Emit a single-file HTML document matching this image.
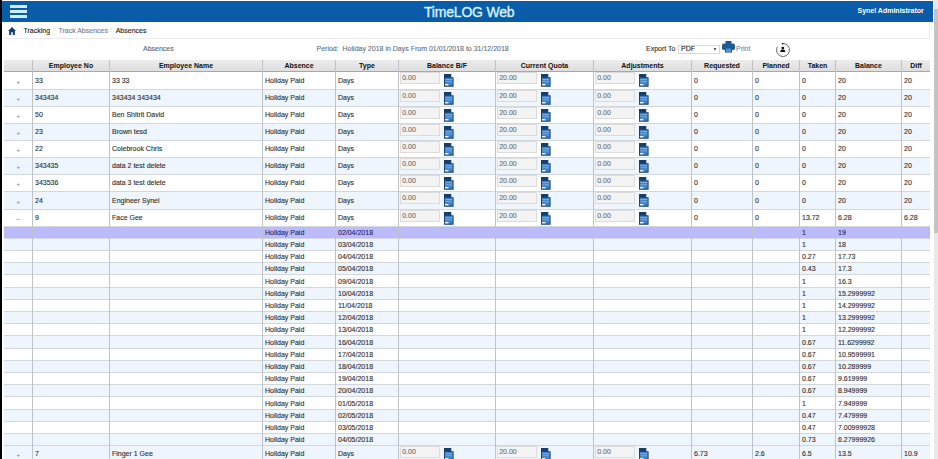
<!DOCTYPE html><html><head><meta charset="utf-8"><style>
*{margin:0;padding:0;box-sizing:border-box}
html,body{width:938px;height:459px;overflow:hidden;background:#fff;font-family:"Liberation Sans", sans-serif}
.a{position:absolute}
.t{position:absolute;font-size:7px;line-height:8px;color:#303030;white-space:nowrap;-webkit-text-stroke:0.12px currentColor}
.hd{position:absolute;font-size:7px;line-height:8px;font-weight:bold;color:#111;white-space:nowrap;text-align:center}
.ic{position:absolute}
.inp{position:absolute;height:12px;border:1px solid #dcdcdc;background:#f3f3f3;font-size:7px;line-height:10px;color:#6e6e6e;padding-left:1.2px;-webkit-text-stroke:0.1px currentColor}
</style></head><body>
<div class="a" style="left:0;top:0;width:2px;height:459px;background:#000"></div>
<div class="a" style="left:2px;top:1.3px;width:930.5px;height:20.4px;background:#0a5ca8"></div>
<div class="a" style="left:10px;top:5.2px;width:17px;height:2.7px;background:#cdeffd"></div>
<div class="a" style="left:10px;top:10.1px;width:17px;height:2.7px;background:#cdeffd"></div>
<div class="a" style="left:10px;top:15.3px;width:17px;height:2.7px;background:#cdeffd"></div>
<div class="a" style="left:424px;top:4.3px;font-size:14px;line-height:16px;letter-spacing:-0.2px;color:#d6f2fe;white-space:nowrap;-webkit-text-stroke:0.35px #d6f2fe">TimeLOG Web</div>
<div class="a" style="left:857.5px;top:6.6px;font-size:7px;line-height:8px;font-weight:bold;color:#fff;white-space:nowrap">Synel Administrator</div>
<div class="a" style="left:934px;top:0;width:4px;height:459px;background:#e8e8e8"></div>
<div class="a" style="left:934px;top:9px;width:4px;height:224px;background:#c4c4c4"></div>
<div class="a" style="left:4px;top:21.5px;width:926px;height:17.5px;border-bottom:1px solid #ececec;border-right:1px solid #f0f0f0;background:#fff"></div>
<svg class="a" style="left:7.8px;top:26.8px" width="8" height="8" viewBox="0 0 9 8" preserveAspectRatio="none"><path d="M4.5 0L9 4H7.7V8H5.4V5.3H3.6V8H1.3V4H0Z" fill="#173f6e"/></svg>
<div class="t" style="left:23.5px;top:27px;color:#222">Tracking</div>
<div class="t" style="left:53px;top:27px;color:#e8e8e8">/</div>
<div class="t" style="left:58.4px;top:27px;color:#6f849b">Track Absences</div>
<div class="t" style="left:110px;top:27px;color:#e8e8e8">/</div>
<div class="t" style="left:115.7px;top:27px;color:#222">Absences</div>
<div class="t" style="left:143px;top:45.3px;color:#56687e">Absences</div>
<div class="t" style="left:316.5px;top:45.3px;color:#67737f">Period:&nbsp; Holiday 2018 in Days From 01/01/2018 to 31/12/2018</div>
<div class="t" style="left:646px;top:45px;color:#333">Export To</div>
<div class="a" style="left:678px;top:44.5px;width:42px;height:9px;border:1px solid #d8d8d8;background:#fff"></div>
<div class="t" style="left:681px;top:45px;color:#222">PDF</div>
<div class="a" style="left:713.5px;top:47.5px;width:0;height:0;border-left:1.5px solid transparent;border-right:1.5px solid transparent;border-top:3px solid #222"></div>
<svg class="a" style="left:721.5px;top:41px" width="13" height="12" viewBox="0 0 13 12"><rect x="3.5" y="0" width="6" height="3" fill="#1c5b93"/><rect x="0" y="2.6" width="13" height="6.4" rx="1.8" fill="#1c5b93"/><rect x="3" y="6.8" width="7" height="4.8" fill="#1c5b93"/><rect x="4" y="7.5" width="5" height="3.5" fill="#4f93d0"/></svg>
<div class="t" style="left:736px;top:45px;color:#7d8a99">Print</div>
<svg class="a" style="left:774.5px;top:42px" width="16" height="16" viewBox="0 0 16 16"><path d="M8 1.5A6.5 6.5 0 1 1 2.37 4.75" fill="none" stroke="#444" stroke-width="0.8"/><circle cx="7.6" cy="1.7" r="0.9" fill="#333"/><circle cx="7.8" cy="6.1" r="1.45" fill="#111"/><path d="M5.2 10C5.4 8.3 6.3 7.6 7.8 7.6C9.3 7.6 10.2 8.3 10.4 10Z" fill="#111"/></svg>
<div class="a" style="left:4px;top:59.5px;width:926px;height:12.0px;background:linear-gradient(#ececec,#dedede);border-bottom:1px solid #a8a8a8"></div>
<div class="hd" style="left:32.5px;top:62px;width:77px">Employee No</div>
<div class="hd" style="left:109.5px;top:62px;width:153px">Employee Name</div>
<div class="hd" style="left:262.5px;top:62px;width:73px">Absence</div>
<div class="hd" style="left:335.5px;top:62px;width:63px">Type</div>
<div class="hd" style="left:398.5px;top:62px;width:97px">Balance B/F</div>
<div class="hd" style="left:495.5px;top:62px;width:98px">Current Quota</div>
<div class="hd" style="left:593.5px;top:62px;width:98px">Adjustments</div>
<div class="hd" style="left:691.5px;top:62px;width:61px">Requested</div>
<div class="hd" style="left:752.5px;top:62px;width:47px">Planned</div>
<div class="hd" style="left:799.5px;top:62px;width:36px">Taken</div>
<div class="hd" style="left:835.5px;top:62px;width:66px">Balance</div>
<div class="hd" style="left:901.5px;top:62px;width:29px">Diff</div>
<div class="a" style="left:4px;top:72px;width:926px;height:18px;background:#ffffff"></div>
<div class="a" style="left:4px;top:89px;width:926px;height:1px;background:#d3d7db"></div>
<div class="a" style="left:4px;top:90px;width:926px;height:17px;background:#eef5fc"></div>
<div class="a" style="left:4px;top:106px;width:926px;height:1px;background:#d3d7db"></div>
<div class="a" style="left:4px;top:107px;width:926px;height:17px;background:#ffffff"></div>
<div class="a" style="left:4px;top:123px;width:926px;height:1px;background:#d3d7db"></div>
<div class="a" style="left:4px;top:124px;width:926px;height:17px;background:#eef5fc"></div>
<div class="a" style="left:4px;top:140px;width:926px;height:1px;background:#d3d7db"></div>
<div class="a" style="left:4px;top:141px;width:926px;height:17px;background:#ffffff"></div>
<div class="a" style="left:4px;top:157px;width:926px;height:1px;background:#d3d7db"></div>
<div class="a" style="left:4px;top:158px;width:926px;height:17px;background:#eef5fc"></div>
<div class="a" style="left:4px;top:174px;width:926px;height:1px;background:#d3d7db"></div>
<div class="a" style="left:4px;top:175px;width:926px;height:17px;background:#ffffff"></div>
<div class="a" style="left:4px;top:191px;width:926px;height:1px;background:#d3d7db"></div>
<div class="a" style="left:4px;top:192px;width:926px;height:18px;background:#eef5fc"></div>
<div class="a" style="left:4px;top:209px;width:926px;height:1px;background:#d3d7db"></div>
<div class="a" style="left:4px;top:210px;width:926px;height:17px;background:#ffffff"></div>
<div class="a" style="left:4px;top:226px;width:926px;height:1px;background:#d3d7db"></div>
<div class="a" style="left:4px;top:227px;width:926px;height:12px;background:#bbbbfb"></div>
<div class="a" style="left:4px;top:238px;width:926px;height:1px;background:#d3d7db"></div>
<div class="a" style="left:4px;top:239px;width:926px;height:12px;background:#eef5fc"></div>
<div class="a" style="left:4px;top:250px;width:926px;height:1px;background:#d3d7db"></div>
<div class="a" style="left:4px;top:251px;width:926px;height:12px;background:#ffffff"></div>
<div class="a" style="left:4px;top:262px;width:926px;height:1px;background:#d3d7db"></div>
<div class="a" style="left:4px;top:263px;width:926px;height:12px;background:#eef5fc"></div>
<div class="a" style="left:4px;top:274px;width:926px;height:1px;background:#d3d7db"></div>
<div class="a" style="left:4px;top:275px;width:926px;height:13px;background:#ffffff"></div>
<div class="a" style="left:4px;top:287px;width:926px;height:1px;background:#d3d7db"></div>
<div class="a" style="left:4px;top:288px;width:926px;height:12px;background:#eef5fc"></div>
<div class="a" style="left:4px;top:299px;width:926px;height:1px;background:#d3d7db"></div>
<div class="a" style="left:4px;top:300px;width:926px;height:12px;background:#ffffff"></div>
<div class="a" style="left:4px;top:311px;width:926px;height:1px;background:#d3d7db"></div>
<div class="a" style="left:4px;top:312px;width:926px;height:12px;background:#eef5fc"></div>
<div class="a" style="left:4px;top:323px;width:926px;height:1px;background:#d3d7db"></div>
<div class="a" style="left:4px;top:324px;width:926px;height:12px;background:#ffffff"></div>
<div class="a" style="left:4px;top:335px;width:926px;height:1px;background:#d3d7db"></div>
<div class="a" style="left:4px;top:336px;width:926px;height:13px;background:#eef5fc"></div>
<div class="a" style="left:4px;top:348px;width:926px;height:1px;background:#d3d7db"></div>
<div class="a" style="left:4px;top:349px;width:926px;height:12px;background:#ffffff"></div>
<div class="a" style="left:4px;top:360px;width:926px;height:1px;background:#d3d7db"></div>
<div class="a" style="left:4px;top:361px;width:926px;height:12px;background:#eef5fc"></div>
<div class="a" style="left:4px;top:372px;width:926px;height:1px;background:#d3d7db"></div>
<div class="a" style="left:4px;top:373px;width:926px;height:12px;background:#ffffff"></div>
<div class="a" style="left:4px;top:384px;width:926px;height:1px;background:#d3d7db"></div>
<div class="a" style="left:4px;top:385px;width:926px;height:12px;background:#eef5fc"></div>
<div class="a" style="left:4px;top:396px;width:926px;height:1px;background:#d3d7db"></div>
<div class="a" style="left:4px;top:397px;width:926px;height:13px;background:#ffffff"></div>
<div class="a" style="left:4px;top:409px;width:926px;height:1px;background:#d3d7db"></div>
<div class="a" style="left:4px;top:410px;width:926px;height:12px;background:#eef5fc"></div>
<div class="a" style="left:4px;top:421px;width:926px;height:1px;background:#d3d7db"></div>
<div class="a" style="left:4px;top:422px;width:926px;height:12px;background:#ffffff"></div>
<div class="a" style="left:4px;top:433px;width:926px;height:1px;background:#d3d7db"></div>
<div class="a" style="left:4px;top:434px;width:926px;height:12px;background:#eef5fc"></div>
<div class="a" style="left:4px;top:445px;width:926px;height:1px;background:#d3d7db"></div>
<div class="a" style="left:4px;top:446px;width:926px;height:14px;background:#eef5fc"></div>
<div class="a" style="left:32px;top:59.5px;width:1px;height:399.5px;background:#bfc2c6"></div>
<div class="a" style="left:109px;top:59.5px;width:1px;height:399.5px;background:#bfc2c6"></div>
<div class="a" style="left:262px;top:59.5px;width:1px;height:399.5px;background:#bfc2c6"></div>
<div class="a" style="left:335px;top:59.5px;width:1px;height:399.5px;background:#bfc2c6"></div>
<div class="a" style="left:398px;top:59.5px;width:1px;height:399.5px;background:#bfc2c6"></div>
<div class="a" style="left:495px;top:59.5px;width:1px;height:399.5px;background:#bfc2c6"></div>
<div class="a" style="left:593px;top:59.5px;width:1px;height:399.5px;background:#bfc2c6"></div>
<div class="a" style="left:691px;top:59.5px;width:1px;height:399.5px;background:#bfc2c6"></div>
<div class="a" style="left:752px;top:59.5px;width:1px;height:399.5px;background:#bfc2c6"></div>
<div class="a" style="left:799px;top:59.5px;width:1px;height:399.5px;background:#bfc2c6"></div>
<div class="a" style="left:835px;top:59.5px;width:1px;height:399.5px;background:#bfc2c6"></div>
<div class="a" style="left:901px;top:59.5px;width:1px;height:399.5px;background:#bfc2c6"></div>
<div class="t" style="left:16.5px;top:77.67px;color:#888;font-size:6px">+</div>
<div class="t" style="left:35.0px;top:76.67px;">33</div>
<div class="t" style="left:112.0px;top:76.67px;">33 33</div>
<div class="t" style="left:265.0px;top:76.67px;">Holiday Paid</div>
<div class="t" style="left:338.0px;top:76.67px;">Days</div>
<div class="inp" style="left:400px;top:71.9px;width:40px">0.00</div>
<svg class="ic" style="left:444px;top:73.6px" width="10" height="13" viewBox="0 0 10 13"><path d="M0 0H7.3V3.3H9.6V12.7H0Z" fill="#143f6b"/><rect x="0.9" y="3.8" width="7.8" height="8" fill="#3a7bbf"/><rect x="1.3" y="5.0" width="7" height="0.8" fill="#86b8ea"/><rect x="1.3" y="6.8" width="7" height="0.8" fill="#86b8ea"/><rect x="1.3" y="8.6" width="7" height="0.7" fill="#6fa6de"/><rect x="0.9" y="10" width="3.6" height="1.4" fill="#e4f2ff"/></svg>
<div class="inp" style="left:497px;top:71.9px;width:40px">20.00</div>
<svg class="ic" style="left:541px;top:73.6px" width="10" height="13" viewBox="0 0 10 13"><path d="M0 0H7.3V3.3H9.6V12.7H0Z" fill="#143f6b"/><rect x="0.9" y="3.8" width="7.8" height="8" fill="#3a7bbf"/><rect x="1.3" y="5.0" width="7" height="0.8" fill="#86b8ea"/><rect x="1.3" y="6.8" width="7" height="0.8" fill="#86b8ea"/><rect x="1.3" y="8.6" width="7" height="0.7" fill="#6fa6de"/><rect x="0.9" y="10" width="3.6" height="1.4" fill="#e4f2ff"/></svg>
<div class="inp" style="left:595px;top:71.9px;width:40px">0.00</div>
<svg class="ic" style="left:639px;top:73.6px" width="10" height="13" viewBox="0 0 10 13"><path d="M0 0H7.3V3.3H9.6V12.7H0Z" fill="#143f6b"/><rect x="0.9" y="3.8" width="7.8" height="8" fill="#3a7bbf"/><rect x="1.3" y="5.0" width="7" height="0.8" fill="#86b8ea"/><rect x="1.3" y="6.8" width="7" height="0.8" fill="#86b8ea"/><rect x="1.3" y="8.6" width="7" height="0.7" fill="#6fa6de"/><rect x="0.9" y="10" width="3.6" height="1.4" fill="#e4f2ff"/></svg>
<div class="t" style="left:694.0px;top:76.67px;">0</div>
<div class="t" style="left:755.0px;top:76.67px;">0</div>
<div class="t" style="left:802.0px;top:76.67px;">0</div>
<div class="t" style="left:838.0px;top:76.67px;">20</div>
<div class="t" style="left:904.0px;top:76.67px;">20</div>
<div class="t" style="left:16.5px;top:94.67px;color:#888;font-size:6px">+</div>
<div class="t" style="left:35.0px;top:93.67px;">343434</div>
<div class="t" style="left:112.0px;top:93.67px;">343434 343434</div>
<div class="t" style="left:265.0px;top:93.67px;">Holiday Paid</div>
<div class="t" style="left:338.0px;top:93.67px;">Days</div>
<div class="inp" style="left:400px;top:89.9px;width:40px">0.00</div>
<svg class="ic" style="left:444px;top:91.6px" width="10" height="13" viewBox="0 0 10 13"><path d="M0 0H7.3V3.3H9.6V12.7H0Z" fill="#143f6b"/><rect x="0.9" y="3.8" width="7.8" height="8" fill="#3a7bbf"/><rect x="1.3" y="5.0" width="7" height="0.8" fill="#86b8ea"/><rect x="1.3" y="6.8" width="7" height="0.8" fill="#86b8ea"/><rect x="1.3" y="8.6" width="7" height="0.7" fill="#6fa6de"/><rect x="0.9" y="10" width="3.6" height="1.4" fill="#e4f2ff"/></svg>
<div class="inp" style="left:497px;top:89.9px;width:40px">20.00</div>
<svg class="ic" style="left:541px;top:91.6px" width="10" height="13" viewBox="0 0 10 13"><path d="M0 0H7.3V3.3H9.6V12.7H0Z" fill="#143f6b"/><rect x="0.9" y="3.8" width="7.8" height="8" fill="#3a7bbf"/><rect x="1.3" y="5.0" width="7" height="0.8" fill="#86b8ea"/><rect x="1.3" y="6.8" width="7" height="0.8" fill="#86b8ea"/><rect x="1.3" y="8.6" width="7" height="0.7" fill="#6fa6de"/><rect x="0.9" y="10" width="3.6" height="1.4" fill="#e4f2ff"/></svg>
<div class="inp" style="left:595px;top:89.9px;width:40px">0.00</div>
<svg class="ic" style="left:639px;top:91.6px" width="10" height="13" viewBox="0 0 10 13"><path d="M0 0H7.3V3.3H9.6V12.7H0Z" fill="#143f6b"/><rect x="0.9" y="3.8" width="7.8" height="8" fill="#3a7bbf"/><rect x="1.3" y="5.0" width="7" height="0.8" fill="#86b8ea"/><rect x="1.3" y="6.8" width="7" height="0.8" fill="#86b8ea"/><rect x="1.3" y="8.6" width="7" height="0.7" fill="#6fa6de"/><rect x="0.9" y="10" width="3.6" height="1.4" fill="#e4f2ff"/></svg>
<div class="t" style="left:694.0px;top:93.67px;">0</div>
<div class="t" style="left:755.0px;top:93.67px;">0</div>
<div class="t" style="left:802.0px;top:93.67px;">0</div>
<div class="t" style="left:838.0px;top:93.67px;">20</div>
<div class="t" style="left:904.0px;top:93.67px;">20</div>
<div class="t" style="left:16.5px;top:111.67px;color:#888;font-size:6px">+</div>
<div class="t" style="left:35.0px;top:110.67px;">50</div>
<div class="t" style="left:112.0px;top:110.67px;">Ben Shitrit David</div>
<div class="t" style="left:265.0px;top:110.67px;">Holiday Paid</div>
<div class="t" style="left:338.0px;top:110.67px;">Days</div>
<div class="inp" style="left:400px;top:106.9px;width:40px">0.00</div>
<svg class="ic" style="left:444px;top:108.6px" width="10" height="13" viewBox="0 0 10 13"><path d="M0 0H7.3V3.3H9.6V12.7H0Z" fill="#143f6b"/><rect x="0.9" y="3.8" width="7.8" height="8" fill="#3a7bbf"/><rect x="1.3" y="5.0" width="7" height="0.8" fill="#86b8ea"/><rect x="1.3" y="6.8" width="7" height="0.8" fill="#86b8ea"/><rect x="1.3" y="8.6" width="7" height="0.7" fill="#6fa6de"/><rect x="0.9" y="10" width="3.6" height="1.4" fill="#e4f2ff"/></svg>
<div class="inp" style="left:497px;top:106.9px;width:40px">20.00</div>
<svg class="ic" style="left:541px;top:108.6px" width="10" height="13" viewBox="0 0 10 13"><path d="M0 0H7.3V3.3H9.6V12.7H0Z" fill="#143f6b"/><rect x="0.9" y="3.8" width="7.8" height="8" fill="#3a7bbf"/><rect x="1.3" y="5.0" width="7" height="0.8" fill="#86b8ea"/><rect x="1.3" y="6.8" width="7" height="0.8" fill="#86b8ea"/><rect x="1.3" y="8.6" width="7" height="0.7" fill="#6fa6de"/><rect x="0.9" y="10" width="3.6" height="1.4" fill="#e4f2ff"/></svg>
<div class="inp" style="left:595px;top:106.9px;width:40px">0.00</div>
<svg class="ic" style="left:639px;top:108.6px" width="10" height="13" viewBox="0 0 10 13"><path d="M0 0H7.3V3.3H9.6V12.7H0Z" fill="#143f6b"/><rect x="0.9" y="3.8" width="7.8" height="8" fill="#3a7bbf"/><rect x="1.3" y="5.0" width="7" height="0.8" fill="#86b8ea"/><rect x="1.3" y="6.8" width="7" height="0.8" fill="#86b8ea"/><rect x="1.3" y="8.6" width="7" height="0.7" fill="#6fa6de"/><rect x="0.9" y="10" width="3.6" height="1.4" fill="#e4f2ff"/></svg>
<div class="t" style="left:694.0px;top:110.67px;">0</div>
<div class="t" style="left:755.0px;top:110.67px;">0</div>
<div class="t" style="left:802.0px;top:110.67px;">0</div>
<div class="t" style="left:838.0px;top:110.67px;">20</div>
<div class="t" style="left:904.0px;top:110.67px;">20</div>
<div class="t" style="left:16.5px;top:128.67000000000002px;color:#888;font-size:6px">+</div>
<div class="t" style="left:35.0px;top:127.67px;">23</div>
<div class="t" style="left:112.0px;top:127.67px;">Brown tesd</div>
<div class="t" style="left:265.0px;top:127.67px;">Holiday Paid</div>
<div class="t" style="left:338.0px;top:127.67px;">Days</div>
<div class="inp" style="left:400px;top:123.9px;width:40px">0.00</div>
<svg class="ic" style="left:444px;top:125.6px" width="10" height="13" viewBox="0 0 10 13"><path d="M0 0H7.3V3.3H9.6V12.7H0Z" fill="#143f6b"/><rect x="0.9" y="3.8" width="7.8" height="8" fill="#3a7bbf"/><rect x="1.3" y="5.0" width="7" height="0.8" fill="#86b8ea"/><rect x="1.3" y="6.8" width="7" height="0.8" fill="#86b8ea"/><rect x="1.3" y="8.6" width="7" height="0.7" fill="#6fa6de"/><rect x="0.9" y="10" width="3.6" height="1.4" fill="#e4f2ff"/></svg>
<div class="inp" style="left:497px;top:123.9px;width:40px">20.00</div>
<svg class="ic" style="left:541px;top:125.6px" width="10" height="13" viewBox="0 0 10 13"><path d="M0 0H7.3V3.3H9.6V12.7H0Z" fill="#143f6b"/><rect x="0.9" y="3.8" width="7.8" height="8" fill="#3a7bbf"/><rect x="1.3" y="5.0" width="7" height="0.8" fill="#86b8ea"/><rect x="1.3" y="6.8" width="7" height="0.8" fill="#86b8ea"/><rect x="1.3" y="8.6" width="7" height="0.7" fill="#6fa6de"/><rect x="0.9" y="10" width="3.6" height="1.4" fill="#e4f2ff"/></svg>
<div class="inp" style="left:595px;top:123.9px;width:40px">0.00</div>
<svg class="ic" style="left:639px;top:125.6px" width="10" height="13" viewBox="0 0 10 13"><path d="M0 0H7.3V3.3H9.6V12.7H0Z" fill="#143f6b"/><rect x="0.9" y="3.8" width="7.8" height="8" fill="#3a7bbf"/><rect x="1.3" y="5.0" width="7" height="0.8" fill="#86b8ea"/><rect x="1.3" y="6.8" width="7" height="0.8" fill="#86b8ea"/><rect x="1.3" y="8.6" width="7" height="0.7" fill="#6fa6de"/><rect x="0.9" y="10" width="3.6" height="1.4" fill="#e4f2ff"/></svg>
<div class="t" style="left:694.0px;top:127.67px;">0</div>
<div class="t" style="left:755.0px;top:127.67px;">0</div>
<div class="t" style="left:802.0px;top:127.67px;">0</div>
<div class="t" style="left:838.0px;top:127.67px;">20</div>
<div class="t" style="left:904.0px;top:127.67px;">20</div>
<div class="t" style="left:16.5px;top:145.67px;color:#888;font-size:6px">+</div>
<div class="t" style="left:35.0px;top:144.67px;">22</div>
<div class="t" style="left:112.0px;top:144.67px;">Colebrook Chris</div>
<div class="t" style="left:265.0px;top:144.67px;">Holiday Paid</div>
<div class="t" style="left:338.0px;top:144.67px;">Days</div>
<div class="inp" style="left:400px;top:140.9px;width:40px">0.00</div>
<svg class="ic" style="left:444px;top:142.6px" width="10" height="13" viewBox="0 0 10 13"><path d="M0 0H7.3V3.3H9.6V12.7H0Z" fill="#143f6b"/><rect x="0.9" y="3.8" width="7.8" height="8" fill="#3a7bbf"/><rect x="1.3" y="5.0" width="7" height="0.8" fill="#86b8ea"/><rect x="1.3" y="6.8" width="7" height="0.8" fill="#86b8ea"/><rect x="1.3" y="8.6" width="7" height="0.7" fill="#6fa6de"/><rect x="0.9" y="10" width="3.6" height="1.4" fill="#e4f2ff"/></svg>
<div class="inp" style="left:497px;top:140.9px;width:40px">20.00</div>
<svg class="ic" style="left:541px;top:142.6px" width="10" height="13" viewBox="0 0 10 13"><path d="M0 0H7.3V3.3H9.6V12.7H0Z" fill="#143f6b"/><rect x="0.9" y="3.8" width="7.8" height="8" fill="#3a7bbf"/><rect x="1.3" y="5.0" width="7" height="0.8" fill="#86b8ea"/><rect x="1.3" y="6.8" width="7" height="0.8" fill="#86b8ea"/><rect x="1.3" y="8.6" width="7" height="0.7" fill="#6fa6de"/><rect x="0.9" y="10" width="3.6" height="1.4" fill="#e4f2ff"/></svg>
<div class="inp" style="left:595px;top:140.9px;width:40px">0.00</div>
<svg class="ic" style="left:639px;top:142.6px" width="10" height="13" viewBox="0 0 10 13"><path d="M0 0H7.3V3.3H9.6V12.7H0Z" fill="#143f6b"/><rect x="0.9" y="3.8" width="7.8" height="8" fill="#3a7bbf"/><rect x="1.3" y="5.0" width="7" height="0.8" fill="#86b8ea"/><rect x="1.3" y="6.8" width="7" height="0.8" fill="#86b8ea"/><rect x="1.3" y="8.6" width="7" height="0.7" fill="#6fa6de"/><rect x="0.9" y="10" width="3.6" height="1.4" fill="#e4f2ff"/></svg>
<div class="t" style="left:694.0px;top:144.67px;">0</div>
<div class="t" style="left:755.0px;top:144.67px;">0</div>
<div class="t" style="left:802.0px;top:144.67px;">0</div>
<div class="t" style="left:838.0px;top:144.67px;">20</div>
<div class="t" style="left:904.0px;top:144.67px;">20</div>
<div class="t" style="left:16.5px;top:162.67px;color:#888;font-size:6px">+</div>
<div class="t" style="left:35.0px;top:161.67px;">343435</div>
<div class="t" style="left:112.0px;top:161.67px;">data 2 test delete</div>
<div class="t" style="left:265.0px;top:161.67px;">Holiday Paid</div>
<div class="t" style="left:338.0px;top:161.67px;">Days</div>
<div class="inp" style="left:400px;top:157.9px;width:40px">0.00</div>
<svg class="ic" style="left:444px;top:159.6px" width="10" height="13" viewBox="0 0 10 13"><path d="M0 0H7.3V3.3H9.6V12.7H0Z" fill="#143f6b"/><rect x="0.9" y="3.8" width="7.8" height="8" fill="#3a7bbf"/><rect x="1.3" y="5.0" width="7" height="0.8" fill="#86b8ea"/><rect x="1.3" y="6.8" width="7" height="0.8" fill="#86b8ea"/><rect x="1.3" y="8.6" width="7" height="0.7" fill="#6fa6de"/><rect x="0.9" y="10" width="3.6" height="1.4" fill="#e4f2ff"/></svg>
<div class="inp" style="left:497px;top:157.9px;width:40px">20.00</div>
<svg class="ic" style="left:541px;top:159.6px" width="10" height="13" viewBox="0 0 10 13"><path d="M0 0H7.3V3.3H9.6V12.7H0Z" fill="#143f6b"/><rect x="0.9" y="3.8" width="7.8" height="8" fill="#3a7bbf"/><rect x="1.3" y="5.0" width="7" height="0.8" fill="#86b8ea"/><rect x="1.3" y="6.8" width="7" height="0.8" fill="#86b8ea"/><rect x="1.3" y="8.6" width="7" height="0.7" fill="#6fa6de"/><rect x="0.9" y="10" width="3.6" height="1.4" fill="#e4f2ff"/></svg>
<div class="inp" style="left:595px;top:157.9px;width:40px">0.00</div>
<svg class="ic" style="left:639px;top:159.6px" width="10" height="13" viewBox="0 0 10 13"><path d="M0 0H7.3V3.3H9.6V12.7H0Z" fill="#143f6b"/><rect x="0.9" y="3.8" width="7.8" height="8" fill="#3a7bbf"/><rect x="1.3" y="5.0" width="7" height="0.8" fill="#86b8ea"/><rect x="1.3" y="6.8" width="7" height="0.8" fill="#86b8ea"/><rect x="1.3" y="8.6" width="7" height="0.7" fill="#6fa6de"/><rect x="0.9" y="10" width="3.6" height="1.4" fill="#e4f2ff"/></svg>
<div class="t" style="left:694.0px;top:161.67px;">0</div>
<div class="t" style="left:755.0px;top:161.67px;">0</div>
<div class="t" style="left:802.0px;top:161.67px;">0</div>
<div class="t" style="left:838.0px;top:161.67px;">20</div>
<div class="t" style="left:904.0px;top:161.67px;">20</div>
<div class="t" style="left:16.5px;top:179.67px;color:#888;font-size:6px">+</div>
<div class="t" style="left:35.0px;top:178.67px;">343536</div>
<div class="t" style="left:112.0px;top:178.67px;">data 3 test delete</div>
<div class="t" style="left:265.0px;top:178.67px;">Holiday Paid</div>
<div class="t" style="left:338.0px;top:178.67px;">Days</div>
<div class="inp" style="left:400px;top:174.9px;width:40px">0.00</div>
<svg class="ic" style="left:444px;top:176.6px" width="10" height="13" viewBox="0 0 10 13"><path d="M0 0H7.3V3.3H9.6V12.7H0Z" fill="#143f6b"/><rect x="0.9" y="3.8" width="7.8" height="8" fill="#3a7bbf"/><rect x="1.3" y="5.0" width="7" height="0.8" fill="#86b8ea"/><rect x="1.3" y="6.8" width="7" height="0.8" fill="#86b8ea"/><rect x="1.3" y="8.6" width="7" height="0.7" fill="#6fa6de"/><rect x="0.9" y="10" width="3.6" height="1.4" fill="#e4f2ff"/></svg>
<div class="inp" style="left:497px;top:174.9px;width:40px">20.00</div>
<svg class="ic" style="left:541px;top:176.6px" width="10" height="13" viewBox="0 0 10 13"><path d="M0 0H7.3V3.3H9.6V12.7H0Z" fill="#143f6b"/><rect x="0.9" y="3.8" width="7.8" height="8" fill="#3a7bbf"/><rect x="1.3" y="5.0" width="7" height="0.8" fill="#86b8ea"/><rect x="1.3" y="6.8" width="7" height="0.8" fill="#86b8ea"/><rect x="1.3" y="8.6" width="7" height="0.7" fill="#6fa6de"/><rect x="0.9" y="10" width="3.6" height="1.4" fill="#e4f2ff"/></svg>
<div class="inp" style="left:595px;top:174.9px;width:40px">0.00</div>
<svg class="ic" style="left:639px;top:176.6px" width="10" height="13" viewBox="0 0 10 13"><path d="M0 0H7.3V3.3H9.6V12.7H0Z" fill="#143f6b"/><rect x="0.9" y="3.8" width="7.8" height="8" fill="#3a7bbf"/><rect x="1.3" y="5.0" width="7" height="0.8" fill="#86b8ea"/><rect x="1.3" y="6.8" width="7" height="0.8" fill="#86b8ea"/><rect x="1.3" y="8.6" width="7" height="0.7" fill="#6fa6de"/><rect x="0.9" y="10" width="3.6" height="1.4" fill="#e4f2ff"/></svg>
<div class="t" style="left:694.0px;top:178.67px;">0</div>
<div class="t" style="left:755.0px;top:178.67px;">0</div>
<div class="t" style="left:802.0px;top:178.67px;">0</div>
<div class="t" style="left:838.0px;top:178.67px;">20</div>
<div class="t" style="left:904.0px;top:178.67px;">20</div>
<div class="t" style="left:16.5px;top:197.67px;color:#888;font-size:6px">+</div>
<div class="t" style="left:35.0px;top:196.67px;">24</div>
<div class="t" style="left:112.0px;top:196.67px;">Engineer Synel</div>
<div class="t" style="left:265.0px;top:196.67px;">Holiday Paid</div>
<div class="t" style="left:338.0px;top:196.67px;">Days</div>
<div class="inp" style="left:400px;top:191.9px;width:40px">0.00</div>
<svg class="ic" style="left:444px;top:193.6px" width="10" height="13" viewBox="0 0 10 13"><path d="M0 0H7.3V3.3H9.6V12.7H0Z" fill="#143f6b"/><rect x="0.9" y="3.8" width="7.8" height="8" fill="#3a7bbf"/><rect x="1.3" y="5.0" width="7" height="0.8" fill="#86b8ea"/><rect x="1.3" y="6.8" width="7" height="0.8" fill="#86b8ea"/><rect x="1.3" y="8.6" width="7" height="0.7" fill="#6fa6de"/><rect x="0.9" y="10" width="3.6" height="1.4" fill="#e4f2ff"/></svg>
<div class="inp" style="left:497px;top:191.9px;width:40px">20.00</div>
<svg class="ic" style="left:541px;top:193.6px" width="10" height="13" viewBox="0 0 10 13"><path d="M0 0H7.3V3.3H9.6V12.7H0Z" fill="#143f6b"/><rect x="0.9" y="3.8" width="7.8" height="8" fill="#3a7bbf"/><rect x="1.3" y="5.0" width="7" height="0.8" fill="#86b8ea"/><rect x="1.3" y="6.8" width="7" height="0.8" fill="#86b8ea"/><rect x="1.3" y="8.6" width="7" height="0.7" fill="#6fa6de"/><rect x="0.9" y="10" width="3.6" height="1.4" fill="#e4f2ff"/></svg>
<div class="inp" style="left:595px;top:191.9px;width:40px">0.00</div>
<svg class="ic" style="left:639px;top:193.6px" width="10" height="13" viewBox="0 0 10 13"><path d="M0 0H7.3V3.3H9.6V12.7H0Z" fill="#143f6b"/><rect x="0.9" y="3.8" width="7.8" height="8" fill="#3a7bbf"/><rect x="1.3" y="5.0" width="7" height="0.8" fill="#86b8ea"/><rect x="1.3" y="6.8" width="7" height="0.8" fill="#86b8ea"/><rect x="1.3" y="8.6" width="7" height="0.7" fill="#6fa6de"/><rect x="0.9" y="10" width="3.6" height="1.4" fill="#e4f2ff"/></svg>
<div class="t" style="left:694.0px;top:196.67px;">0</div>
<div class="t" style="left:755.0px;top:196.67px;">0</div>
<div class="t" style="left:802.0px;top:196.67px;">0</div>
<div class="t" style="left:838.0px;top:196.67px;">20</div>
<div class="t" style="left:904.0px;top:196.67px;">20</div>
<div class="t" style="left:16.5px;top:214.67px;color:#888;font-size:6px">&#8722;</div>
<div class="t" style="left:35.0px;top:213.67px;">9</div>
<div class="t" style="left:112.0px;top:213.67px;">Face Gee</div>
<div class="t" style="left:265.0px;top:213.67px;">Holiday Paid</div>
<div class="t" style="left:338.0px;top:213.67px;">Days</div>
<div class="inp" style="left:400px;top:209.9px;width:40px">0.00</div>
<svg class="ic" style="left:444px;top:211.6px" width="10" height="13" viewBox="0 0 10 13"><path d="M0 0H7.3V3.3H9.6V12.7H0Z" fill="#143f6b"/><rect x="0.9" y="3.8" width="7.8" height="8" fill="#3a7bbf"/><rect x="1.3" y="5.0" width="7" height="0.8" fill="#86b8ea"/><rect x="1.3" y="6.8" width="7" height="0.8" fill="#86b8ea"/><rect x="1.3" y="8.6" width="7" height="0.7" fill="#6fa6de"/><rect x="0.9" y="10" width="3.6" height="1.4" fill="#e4f2ff"/></svg>
<div class="inp" style="left:497px;top:209.9px;width:40px">20.00</div>
<svg class="ic" style="left:541px;top:211.6px" width="10" height="13" viewBox="0 0 10 13"><path d="M0 0H7.3V3.3H9.6V12.7H0Z" fill="#143f6b"/><rect x="0.9" y="3.8" width="7.8" height="8" fill="#3a7bbf"/><rect x="1.3" y="5.0" width="7" height="0.8" fill="#86b8ea"/><rect x="1.3" y="6.8" width="7" height="0.8" fill="#86b8ea"/><rect x="1.3" y="8.6" width="7" height="0.7" fill="#6fa6de"/><rect x="0.9" y="10" width="3.6" height="1.4" fill="#e4f2ff"/></svg>
<div class="inp" style="left:595px;top:209.9px;width:40px">0.00</div>
<svg class="ic" style="left:639px;top:211.6px" width="10" height="13" viewBox="0 0 10 13"><path d="M0 0H7.3V3.3H9.6V12.7H0Z" fill="#143f6b"/><rect x="0.9" y="3.8" width="7.8" height="8" fill="#3a7bbf"/><rect x="1.3" y="5.0" width="7" height="0.8" fill="#86b8ea"/><rect x="1.3" y="6.8" width="7" height="0.8" fill="#86b8ea"/><rect x="1.3" y="8.6" width="7" height="0.7" fill="#6fa6de"/><rect x="0.9" y="10" width="3.6" height="1.4" fill="#e4f2ff"/></svg>
<div class="t" style="left:694.0px;top:213.67px;">0</div>
<div class="t" style="left:755.0px;top:213.67px;">0</div>
<div class="t" style="left:802.0px;top:213.67px;">13.72</div>
<div class="t" style="left:838.0px;top:213.67px;">6.28</div>
<div class="t" style="left:904.0px;top:213.67px;">6.28</div>
<div class="t" style="left:265.0px;top:228.7px;color:#26266e">Holiday Paid</div>
<div class="t" style="left:338.0px;top:228.7px;color:#26266e">02/04/2018</div>
<div class="t" style="left:802.0px;top:228.7px;color:#26266e">1</div>
<div class="t" style="left:838.0px;top:228.7px;color:#26266e">19</div>
<div class="t" style="left:265.0px;top:240.7px;color:#303030">Holiday Paid</div>
<div class="t" style="left:338.0px;top:240.7px;color:#303030">03/04/2018</div>
<div class="t" style="left:802.0px;top:240.7px;color:#303030">1</div>
<div class="t" style="left:838.0px;top:240.7px;color:#303030">18</div>
<div class="t" style="left:265.0px;top:252.7px;color:#303030">Holiday Paid</div>
<div class="t" style="left:338.0px;top:252.7px;color:#303030">04/04/2018</div>
<div class="t" style="left:802.0px;top:252.7px;color:#303030">0.27</div>
<div class="t" style="left:838.0px;top:252.7px;color:#303030">17.73</div>
<div class="t" style="left:265.0px;top:264.7px;color:#303030">Holiday Paid</div>
<div class="t" style="left:338.0px;top:264.7px;color:#303030">05/04/2018</div>
<div class="t" style="left:802.0px;top:264.7px;color:#303030">0.43</div>
<div class="t" style="left:838.0px;top:264.7px;color:#303030">17.3</div>
<div class="t" style="left:265.0px;top:277.7px;color:#303030">Holiday Paid</div>
<div class="t" style="left:338.0px;top:277.7px;color:#303030">09/04/2018</div>
<div class="t" style="left:802.0px;top:277.7px;color:#303030">1</div>
<div class="t" style="left:838.0px;top:277.7px;color:#303030">16.3</div>
<div class="t" style="left:265.0px;top:289.7px;color:#303030">Holiday Paid</div>
<div class="t" style="left:338.0px;top:289.7px;color:#303030">10/04/2018</div>
<div class="t" style="left:802.0px;top:289.7px;color:#303030">1</div>
<div class="t" style="left:838.0px;top:289.7px;color:#303030">15.2999992</div>
<div class="t" style="left:265.0px;top:301.7px;color:#303030">Holiday Paid</div>
<div class="t" style="left:338.0px;top:301.7px;color:#303030">11/04/2018</div>
<div class="t" style="left:802.0px;top:301.7px;color:#303030">1</div>
<div class="t" style="left:838.0px;top:301.7px;color:#303030">14.2999992</div>
<div class="t" style="left:265.0px;top:313.7px;color:#303030">Holiday Paid</div>
<div class="t" style="left:338.0px;top:313.7px;color:#303030">12/04/2018</div>
<div class="t" style="left:802.0px;top:313.7px;color:#303030">1</div>
<div class="t" style="left:838.0px;top:313.7px;color:#303030">13.2999992</div>
<div class="t" style="left:265.0px;top:325.7px;color:#303030">Holiday Paid</div>
<div class="t" style="left:338.0px;top:325.7px;color:#303030">13/04/2018</div>
<div class="t" style="left:802.0px;top:325.7px;color:#303030">1</div>
<div class="t" style="left:838.0px;top:325.7px;color:#303030">12.2999992</div>
<div class="t" style="left:265.0px;top:338.7px;color:#303030">Holiday Paid</div>
<div class="t" style="left:338.0px;top:338.7px;color:#303030">16/04/2018</div>
<div class="t" style="left:802.0px;top:338.7px;color:#303030">0.67</div>
<div class="t" style="left:838.0px;top:338.7px;color:#303030">11.6299992</div>
<div class="t" style="left:265.0px;top:350.7px;color:#303030">Holiday Paid</div>
<div class="t" style="left:338.0px;top:350.7px;color:#303030">17/04/2018</div>
<div class="t" style="left:802.0px;top:350.7px;color:#303030">0.67</div>
<div class="t" style="left:838.0px;top:350.7px;color:#303030">10.9599991</div>
<div class="t" style="left:265.0px;top:362.7px;color:#303030">Holiday Paid</div>
<div class="t" style="left:338.0px;top:362.7px;color:#303030">18/04/2018</div>
<div class="t" style="left:802.0px;top:362.7px;color:#303030">0.67</div>
<div class="t" style="left:838.0px;top:362.7px;color:#303030">10.289999</div>
<div class="t" style="left:265.0px;top:374.7px;color:#303030">Holiday Paid</div>
<div class="t" style="left:338.0px;top:374.7px;color:#303030">19/04/2018</div>
<div class="t" style="left:802.0px;top:374.7px;color:#303030">0.67</div>
<div class="t" style="left:838.0px;top:374.7px;color:#303030">9.619999</div>
<div class="t" style="left:265.0px;top:386.7px;color:#303030">Holiday Paid</div>
<div class="t" style="left:338.0px;top:386.7px;color:#303030">20/04/2018</div>
<div class="t" style="left:802.0px;top:386.7px;color:#303030">0.67</div>
<div class="t" style="left:838.0px;top:386.7px;color:#303030">8.949999</div>
<div class="t" style="left:265.0px;top:399.7px;color:#303030">Holiday Paid</div>
<div class="t" style="left:338.0px;top:399.7px;color:#303030">01/05/2018</div>
<div class="t" style="left:802.0px;top:399.7px;color:#303030">1</div>
<div class="t" style="left:838.0px;top:399.7px;color:#303030">7.949999</div>
<div class="t" style="left:265.0px;top:411.7px;color:#303030">Holiday Paid</div>
<div class="t" style="left:338.0px;top:411.7px;color:#303030">02/05/2018</div>
<div class="t" style="left:802.0px;top:411.7px;color:#303030">0.47</div>
<div class="t" style="left:838.0px;top:411.7px;color:#303030">7.479999</div>
<div class="t" style="left:265.0px;top:423.7px;color:#303030">Holiday Paid</div>
<div class="t" style="left:338.0px;top:423.7px;color:#303030">03/05/2018</div>
<div class="t" style="left:802.0px;top:423.7px;color:#303030">0.47</div>
<div class="t" style="left:838.0px;top:423.7px;color:#303030">7.00999928</div>
<div class="t" style="left:265.0px;top:435.7px;color:#303030">Holiday Paid</div>
<div class="t" style="left:338.0px;top:435.7px;color:#303030">04/05/2018</div>
<div class="t" style="left:802.0px;top:435.7px;color:#303030">0.73</div>
<div class="t" style="left:838.0px;top:435.7px;color:#303030">6.27999926</div>
<div class="t" style="left:16.5px;top:450.67px;color:#888;font-size:6px">+</div>
<div class="t" style="left:35.0px;top:449.67px;">7</div>
<div class="t" style="left:112.0px;top:449.67px;">Finger 1 Gee</div>
<div class="t" style="left:265.0px;top:449.67px;">Holiday Paid</div>
<div class="t" style="left:338.0px;top:449.67px;">Days</div>
<div class="inp" style="left:400px;top:445.9px;width:40px">0.00</div>
<svg class="ic" style="left:444px;top:447.6px" width="10" height="13" viewBox="0 0 10 13"><path d="M0 0H7.3V3.3H9.6V12.7H0Z" fill="#143f6b"/><rect x="0.9" y="3.8" width="7.8" height="8" fill="#3a7bbf"/><rect x="1.3" y="5.0" width="7" height="0.8" fill="#86b8ea"/><rect x="1.3" y="6.8" width="7" height="0.8" fill="#86b8ea"/><rect x="1.3" y="8.6" width="7" height="0.7" fill="#6fa6de"/><rect x="0.9" y="10" width="3.6" height="1.4" fill="#e4f2ff"/></svg>
<div class="inp" style="left:497px;top:445.9px;width:40px">20.00</div>
<svg class="ic" style="left:541px;top:447.6px" width="10" height="13" viewBox="0 0 10 13"><path d="M0 0H7.3V3.3H9.6V12.7H0Z" fill="#143f6b"/><rect x="0.9" y="3.8" width="7.8" height="8" fill="#3a7bbf"/><rect x="1.3" y="5.0" width="7" height="0.8" fill="#86b8ea"/><rect x="1.3" y="6.8" width="7" height="0.8" fill="#86b8ea"/><rect x="1.3" y="8.6" width="7" height="0.7" fill="#6fa6de"/><rect x="0.9" y="10" width="3.6" height="1.4" fill="#e4f2ff"/></svg>
<div class="inp" style="left:595px;top:445.9px;width:40px">0.00</div>
<svg class="ic" style="left:639px;top:447.6px" width="10" height="13" viewBox="0 0 10 13"><path d="M0 0H7.3V3.3H9.6V12.7H0Z" fill="#143f6b"/><rect x="0.9" y="3.8" width="7.8" height="8" fill="#3a7bbf"/><rect x="1.3" y="5.0" width="7" height="0.8" fill="#86b8ea"/><rect x="1.3" y="6.8" width="7" height="0.8" fill="#86b8ea"/><rect x="1.3" y="8.6" width="7" height="0.7" fill="#6fa6de"/><rect x="0.9" y="10" width="3.6" height="1.4" fill="#e4f2ff"/></svg>
<div class="t" style="left:694.0px;top:449.67px;">6.73</div>
<div class="t" style="left:755.0px;top:449.67px;">2.6</div>
<div class="t" style="left:802.0px;top:449.67px;">6.5</div>
<div class="t" style="left:838.0px;top:449.67px;">13.5</div>
<div class="t" style="left:904.0px;top:449.67px;">10.9</div>
</body></html>
